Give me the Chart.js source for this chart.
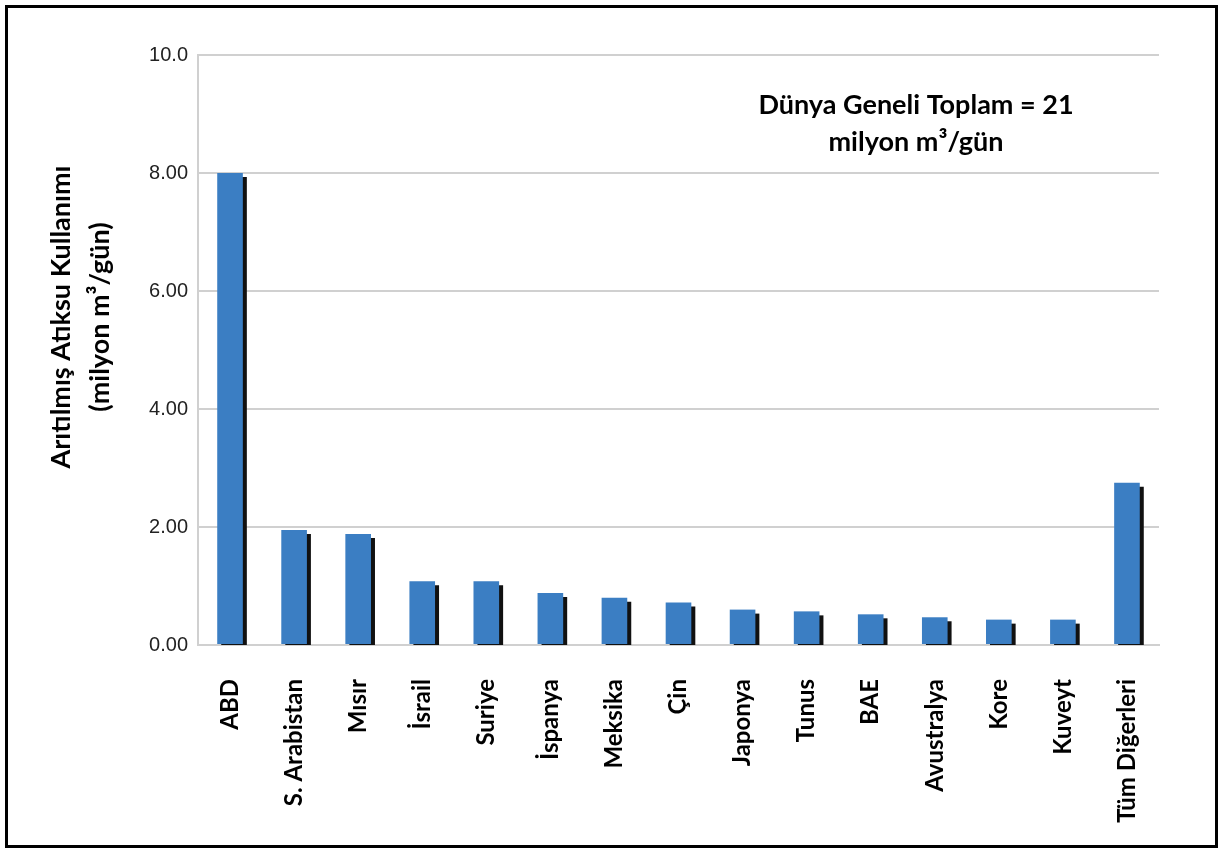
<!DOCTYPE html>
<html>
<head>
<meta charset="utf-8">
<script src="https://cdn.jsdelivr.net/npm/chart.js@4/dist/chart.umd.min.js"></script>
<style>
  html, body { margin: 0; padding: 0; background: #fff; }
  #wrap { position: absolute; left: 0; top: 0; width: 1219px; height: 850px; }
  #frame { position: absolute; left: 5px; top: 5px; width: 1207px; height: 837px; border: 3px solid #000; pointer-events: none; }
</style>
</head>
<body>
<div id="wrap"><canvas id="chart" width="1219" height="850"></canvas></div>
<div id="frame"></div>
<script>
'use strict';
var countries = ['ABD', 'S. Arabistan', 'Mısır', 'İsrail', 'Suriye', 'İspanya', 'Meksika', 'Çin',
  'Japonya', 'Tunus', 'BAE', 'Avustralya', 'Kore', 'Kuveyt', 'Tüm Diğerleri'];
var reuse = [8.0, 1.95, 1.88, 1.08, 1.08, 0.88, 0.8, 0.72, 0.6, 0.57, 0.52, 0.47, 0.43, 0.43, 2.75];
var yTickLabels = ['0.00', '2.00', '4.00', '6.00', '8.00', '10.0'];
var yTitle = ['Arıtılmış Atıksu Kullanımı', '(milyon m³/gün)'];
var note = ['Dünya Geneli Toplam = 21', 'milyon m³/gün'];

var boldFont = 'Lato, "Open Sans", sans-serif';

// drop shadow on the right side of each bar
var barShadow = {
  id: 'barShadow',
  beforeDatasetsDraw: function(chart) {
    var ctx = chart.ctx;
    ctx.save();
    ctx.shadowColor = '#111';
    ctx.shadowOffsetX = 4;
    ctx.shadowOffsetY = 4;
    ctx.shadowBlur = 0;
  },
  afterDatasetsDraw: function(chart) {
    chart.ctx.restore();
  }
};

// y axis title and the total note inside the plot
var texts = {
  id: 'texts',
  afterDraw: function(chart) {
    var ctx = chart.ctx;
    ctx.save();
    ctx.fillStyle = '#000';
    ctx.textAlign = 'center';
    ctx.textBaseline = 'middle';
    ctx.font = 'bold 27px ' + boldFont;
    ctx.fillText(note[0], 916, 105);
    ctx.fillText(note[1], 916, 142);
    ctx.translate(0, 317);
    ctx.rotate(-Math.PI / 2);
    ctx.font = 'bold 27px ' + boldFont;
    ctx.fillText(yTitle[0], 0, 61);
    ctx.fillText(yTitle[1], 0, 100);
    ctx.restore();
  }
};

new Chart(document.getElementById('chart'), {
  type: 'bar',
  data: {
    labels: countries,
    datasets: [{
      data: reuse,
      backgroundColor: '#3b7ec3',
      borderWidth: 0,
      categoryPercentage: 1,
      barPercentage: 0.4,
      clip: 0
    }]
  },
  options: {
    responsive: false,
    animation: false,
    layout: { padding: { top: 55, right: 60, left: 0, bottom: 0 } },
    plugins: { legend: { display: false }, tooltip: { enabled: false } },
    scales: {
      x: {
        grid: { display: false },
        border: { display: true, color: '#d0d0d0', width: 2 },
        ticks: {
          minRotation: 90,
          maxRotation: 90,
          autoSkip: false,
          padding: 26,
          color: '#000',
          font: { family: boldFont, size: 24, weight: 'bold' }
        },
        afterFit: function(scale) { scale.height = 205; }
      },
      y: {
        min: 0,
        max: 10,
        grid: { color: '#d0d0d0', lineWidth: 2, drawTicks: false },
        border: { display: true, color: '#d0d0d0', width: 2 },
        ticks: {
          stepSize: 2,
          padding: 10,
          color: '#222',
          font: { family: 'Liberation Sans, Arial, sans-serif', size: 20 },
          callback: function(value, index) { return yTickLabels[index]; }
        },
        afterFit: function(scale) { scale.width = 198; }
      }
    }
  },
  plugins: [barShadow, texts]
});
</script>
</body>
</html>
